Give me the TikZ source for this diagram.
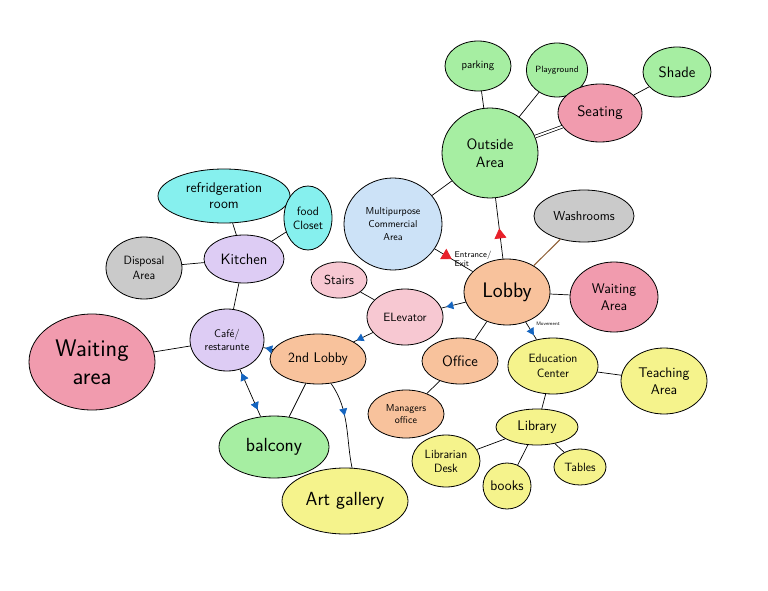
\documentclass[tikz,border=0pt]{standalone}
\usetikzlibrary{arrows.meta,shapes.geometric,decorations.markings}
\definecolor{grass}{HTML}{A6EEA2}
\definecolor{rose}{HTML}{F19BAE}
\definecolor{aqua}{HTML}{86F0EE}
\definecolor{lilac}{HTML}{DDCCF4}
\definecolor{stone}{HTML}{CACACA}
\definecolor{sky}{HTML}{CCE2F7}
\definecolor{peach}{HTML}{F8C29C}
\definecolor{lemon}{HTML}{F5F38C}
\definecolor{flow}{HTML}{1565C0}
\definecolor{exitred}{HTML}{E8202A}
\definecolor{bark}{HTML}{8A5A30}
\newcommand{\sz}[1]{\fontsize{#1}{#1}\selectfont\sffamily}

\begin{document}
\begin{tikzpicture}[x=1pt,y=-1pt,
  blob/.style={ellipse, draw=black, line width=.8pt, inner sep=0pt, align=center},
  link/.style={draw=black, line width=.7pt},
  redtip/.style={postaction={decorate}, decoration={markings,
    mark=at position #1 with {\arrow[exitred]{Triangle[length=10pt,width=12pt]}}}},
  bluetip/.style={postaction={decorate}, decoration={markings,
    mark=at position #1 with {\arrow[flow]{Triangle[length=7pt,width=8pt]}}}},
  bluebacktip/.style={postaction={decorate}, decoration={markings,
    mark=at position #1 with {\arrow[flow]{Triangle[length=7pt,width=8pt,reversed]}}}}
]
  \useasboundingbox[fill=white] (0,0) rectangle (768,591);

  % outside group
  \node[blob, fill=grass, minimum width=66, minimum height=50, font=\sz{11}] (parking) at (478,66) {parking};
  \node[blob, fill=grass, minimum width=54, minimum height=54, font=\sz{9}] (play) at (557,70) {Playground};
  \node[blob, fill=grass, minimum width=68, minimum height=50, font=\sz{15}] (shade) at (677,72) {Shade};
  \node[blob, fill=rose, minimum width=84, minimum height=58, font=\sz{15}] (seating) at (600,113) {Seating};
  \node[blob, fill=grass, minimum width=96, minimum height=90, font=\sz{15}] (outside) at (490,153) {Outside\\[3pt]Area};
  \node[blob, fill=sky, minimum width=98, minimum height=92, font=\sz{10}] (multi) at (393,224)
    {Multipurpose\\[3pt]Commercial\\[3pt]Area};

  % kitchen group
  \node[blob, fill=aqua, minimum width=132, minimum height=54, font=\sz{14}] (fridge) at (224,196)
    {refridgeration\\[2pt]room};
  \node[blob, fill=aqua, minimum width=48, minimum height=64, font=\sz{12}] (closet) at (308,218) {food\\[2pt]Closet};
  \node[blob, fill=lilac, minimum width=80, minimum height=48, font=\sz{15}] (kitchen) at (244,259) {Kitchen};
  \node[blob, fill=stone, minimum width=76, minimum height=62, font=\sz{12}] (disposal) at (144,268) {Disposal\\[3pt]Area};
  \node[blob, fill=lilac, minimum width=74, minimum height=62, font=\sz{11}] (cafe) at (227,340) {Café/\\[2pt]restarunte};
  \node[blob, fill=rose, minimum width=126, minimum height=96, font=\sz{24}] (waitleft) at (92,362) {Waiting\\[4pt]area};

  % lobby group
  \node[blob, fill=rose!55, minimum width=56, minimum height=36, font=\sz{13}] (stairs) at (339,280) {Stairs};
  \node[blob, fill=rose!55, minimum width=76, minimum height=56, font=\sz{12}] (elevator) at (405,317) {ELevator};
  \node[blob, fill=peach, minimum width=86, minimum height=66, font=\sz{21}] (lobby) at (507,292) {Lobby};
  \node[blob, fill=stone, minimum width=100, minimum height=52, font=\sz{13}] (wash) at (584,216) {Washrooms};
  \node[blob, fill=rose, minimum width=88, minimum height=70, font=\sz{14}] (waitright) at (614,297) {Waiting\\[3pt]Area};
  \node[blob, fill=peach, minimum width=96, minimum height=50, font=\sz{14}] (lobbytwo) at (318,359) {2nd Lobby};
  \node[blob, fill=peach, minimum width=76, minimum height=46, font=\sz{15}] (office) at (460,361) {Office};
  \node[blob, fill=peach, minimum width=76, minimum height=48, font=\sz{10}] (manager) at (406,414) {Managers\\[2pt]office};
  \node[blob, fill=grass, minimum width=110, minimum height=62, font=\sz{19}] (balcony) at (274,447) {balcony};
  \node[blob, fill=lemon, minimum width=126, minimum height=66, font=\sz{19}] (gallery) at (345,501) {Art gallery};

  % education group
  \node[blob, fill=lemon, minimum width=90, minimum height=56, font=\sz{12}] (edu) at (553,366) {Education\\[3pt]Center};
  \node[blob, fill=lemon, minimum width=86, minimum height=66, font=\sz{14}] (teach) at (664,381) {Teaching\\[3pt]Area};
  \node[blob, fill=lemon, minimum width=82, minimum height=36, font=\sz{14}] (library) at (537,427) {Library};
  \node[blob, fill=lemon, minimum width=68, minimum height=52, font=\sz{12}] (desk) at (446,461) {Librarian\\[2pt]Desk};
  \node[blob, fill=lemon, minimum width=48, minimum height=46, font=\sz{14}] (books) at (507,486) {books};
  \node[blob, fill=lemon, minimum width=52, minimum height=36, font=\sz{12}] (tables) at (580,467) {Tables};

  % labels on connectors
  \node[align=left, font=\sz{8.5}, inner sep=1pt] (entry) at (473,259) {Entrance/\\[1pt]Exit};
  \node[font=\sz{5}] (move) at (548,324) {Movement};

  % connectors
  \draw[link] (parking) -- (outside);
  \draw[link] (play) -- (outside);
  \draw[link, double, double distance=2pt] (outside) -- (seating);
  \draw[link] (seating) -- (shade);
  \draw[link] (multi) -- (outside);
  \draw[link, redtip=0.5] (lobby) -- (outside);
  \draw[link, redtip=0.45] (multi) -- (lobby);
  \draw[draw=bark, line width=1pt] (lobby) -- (wash);
  \draw[link] (lobby) -- (waitright);
  \draw[link, bluetip=0.8] (lobby) -- (elevator);
  \draw[link, bluetip=0.75] (lobby) -- (edu);
  \draw[link] (lobby) -- (office);
  \draw[link] (office) -- (manager);
  \draw[link] (edu) -- (teach);
  \draw[link] (edu) -- (library);
  \draw[link] (library) -- (desk);
  \draw[link] (library) -- (books);
  \draw[link] (library) -- (tables);
  \draw[link] (stairs) -- (elevator);
  \draw[link, bluetip=0.85] (elevator) -- (lobbytwo);
  \draw[link, bluetip=0.8] (lobbytwo) -- (cafe);
  \draw[link, bluebacktip=0.22, bluetip=0.85] (cafe) -- (balcony);
  \draw[link] (lobbytwo) -- (balcony);
  \draw[link, bluetip=0.4] (lobbytwo.-62) .. controls (350,410) and (346,440) .. (gallery.78);
  \draw[link] (cafe) -- (waitleft);
  \draw[link] (cafe) -- (kitchen);
  \draw[link] (kitchen) -- (fridge);
  \draw[link] (kitchen) -- (closet);
  \draw[link] (kitchen) -- (disposal);
\end{tikzpicture}
\end{document}
